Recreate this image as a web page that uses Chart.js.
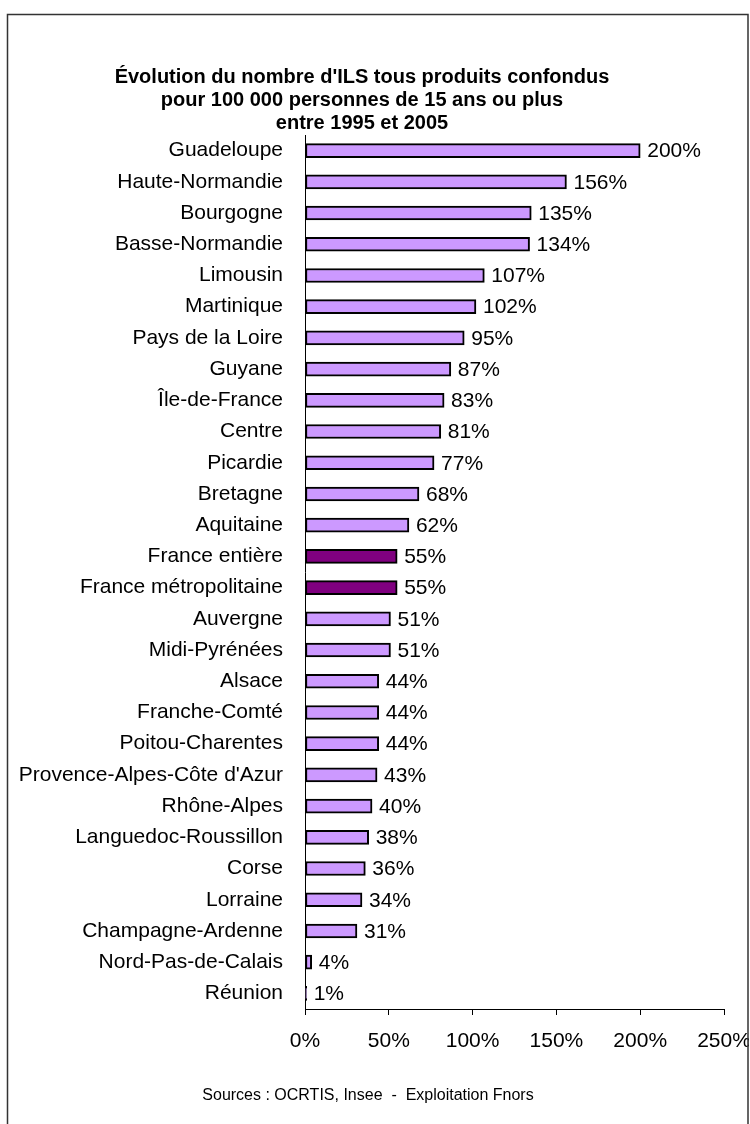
<!DOCTYPE html>
<html lang="fr">
<head>
<meta charset="utf-8">
<title>Évolution du nombre d'ILS 1995-2005</title>
<script src="https://cdn.jsdelivr.net/npm/chart.js@4.4.1/dist/chart.umd.min.js"></script>
<style>
  html, body { margin: 0; padding: 0; background: #fff; }
  #wrap { width: 750px; height: 1124px; position: relative; }
</style>
</head>
<body>
<div id="wrap"><canvas id="ilsChart" width="750" height="1124"></canvas></div>
<script>
const regions = [
  "Guadeloupe", "Haute-Normandie", "Bourgogne", "Basse-Normandie", "Limousin",
  "Martinique", "Pays de la Loire", "Guyane", "Île-de-France", "Centre",
  "Picardie", "Bretagne", "Aquitaine", "France entière", "France métropolitaine",
  "Auvergne", "Midi-Pyrénées", "Alsace", "Franche-Comté", "Poitou-Charentes",
  "Provence-Alpes-Côte d'Azur", "Rhône-Alpes", "Languedoc-Roussillon", "Corse",
  "Lorraine", "Champagne-Ardenne", "Nord-Pas-de-Calais", "Réunion"
]
const evolution = [
  200, 156, 135, 134, 107,
  102, 95, 87, 83, 81,
  77, 68, 62, 55, 55,
  51, 51, 44, 44, 44,
  43, 40, 38, 36,
  34, 31, 4, 1
]
const xTicks = [0, 50, 100, 150, 200, 250]
const titleLines = [
  "Évolution du nombre d'ILS tous produits confondus",
  "pour 100 000 personnes de 15 ans ou plus",
  "entre 1995 et 2005"
]
const sourceText = "Sources : OCRTIS, Insee  -  Exploitation Fnors"

const FONT = "'Liberation Sans', Arial, Helvetica, sans-serif"
const regionColor = "#CC99FF"
const franceColor = "#800080"

// national totals are shown in dark purple
const barColors = regions.map((r) => (r.startsWith("France") ? franceColor : regionColor))

// value labels at the end of each bar + frame and source line
const decorPlugin = {
  id: "decor",
  afterDatasetsDraw(chart) {
    const ctx = chart.ctx
    const meta = chart.getDatasetMeta(0)
    ctx.save()
    ctx.font = "21px " + FONT
    ctx.fillStyle = "#000"
    ctx.textAlign = "left"
    ctx.textBaseline = "middle"
    meta.data.forEach((bar, i) => {
      ctx.fillText(evolution[i] + "%", bar.x + 7, bar.y + 1)
    })
    ctx.restore()
  },
  afterDraw(chart) {
    const ctx = chart.ctx
    ctx.save()
    ctx.fillStyle = "#fff"
    ctx.fillRect(749, 0, 1, chart.height)
    ctx.strokeStyle = "#333"
    ctx.lineWidth = 1.5
    ctx.beginPath()
    ctx.moveTo(7.5, chart.height + 5)
    ctx.lineTo(7.5, 14.5)
    ctx.lineTo(748, 14.5)
    ctx.lineTo(748, chart.height + 5)
    ctx.stroke()
    ctx.font = "16px " + FONT
    ctx.fillStyle = "#000"
    ctx.textAlign = "center"
    ctx.textBaseline = "middle"
    ctx.fillText(sourceText, 368, 1096)
    ctx.restore()
  }
}

new Chart(document.getElementById("ilsChart"), {
  type: "bar",
  data: {
    labels: regions,
    datasets: [
      {
        data: evolution,
        backgroundColor: barColors,
        borderColor: "#000",
        borderWidth: 2,
        borderSkipped: false,
        barThickness: 14,
      },
    ],
  },
  options: {
    indexAxis: "y",
    responsive: false,
    animation: false,
    layout: {
      padding: { top: 66, left: 0, right: 26, bottom: 0 },
    },
    plugins: {
      legend: { display: false },
      tooltip: { enabled: false },
      title: {
        display: true,
        text: titleLines,
        color: "#000",
        font: { family: FONT, size: 20, weight: "bold", lineHeight: 1.15 },
        padding: { top: 0, bottom: 0 },
      },
    },
    scales: {
      x: {
        min: 0,
        max: 250,
        afterFit: (scale) => {
          scale.height = 115
          scale.paddingLeft = 0
          scale.paddingRight = 0
        },
        afterBuildTicks: (scale) => {
          scale.ticks = xTicks.map((v) => ({ value: v }))
        },
        border: { display: true, color: "#000", width: 1 },
        grid: {
          drawOnChartArea: false,
          drawTicks: true,
          tickLength: 6,
          color: "#000",
        },
        ticks: {
          color: "#000",
          padding: 14,
          maxRotation: 0,
          font: { family: FONT, size: 21 },
          callback: (value) => value + "%",
        },
      },
      y: {
        afterFit: (scale) => {
          scale.width = 305
        },
        border: { display: true, color: "#000", width: 1 },
        grid: { display: false, drawTicks: false },
        ticks: {
          color: "#000",
          padding: 22,
          autoSkip: false,
          font: { family: FONT, size: 21 },
        },
      },
    },
  },
  plugins: [decorPlugin],
})
</script>
</body>
</html>
